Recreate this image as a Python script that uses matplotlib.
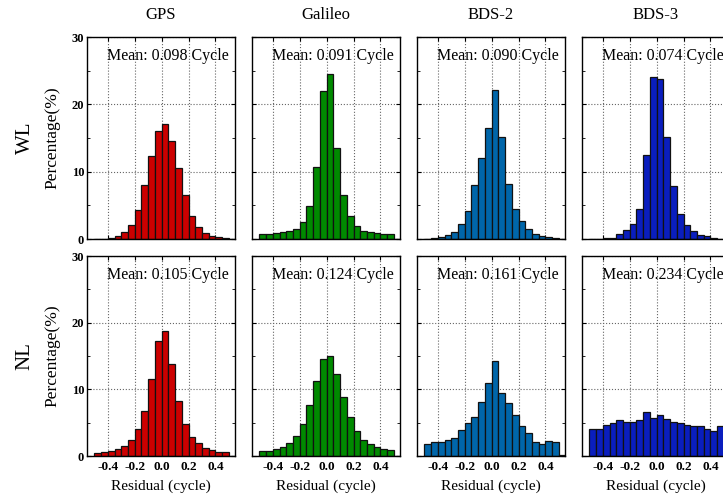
import matplotlib.pyplot as plt
from matplotlib.ticker import MultipleLocator

plt.rcParams['font.family'] = ['Liberation Serif', 'DejaVu Serif']

# bin centres of the residual histograms (cycle)
residual_bins = [-0.475, -0.425, -0.375, -0.325, -0.275, -0.225, -0.175,
                 -0.125, -0.075, -0.025, 0.025, 0.075, 0.125, 0.175, 0.225,
                 0.275, 0.325, 0.375, 0.425, 0.475, 0.525]

systems = ["GPS", "Galileo", "BDS-2", "BDS-3"]
colors = ["#cc0000", "#008a00", "#0066aa", "#0a1ebe"]

# wide-lane residual percentages (%)
gps_wl = [0.05, 0.05, 0.15, 0.45, 1.05, 2.15, 4.35, 8.0, 12.4, 16.05, 17.05,
          14.55, 10.55, 6.5, 3.45, 1.75, 0.9, 0.4, 0.25, 0.1, 0.0]
gal_wl = [0.7, 0.75, 0.9, 1.05, 1.15, 1.55, 2.5, 4.9, 10.7, 22.05, 24.55,
          13.45, 6.6, 3.45, 1.9, 1.25, 1.05, 0.9, 0.75, 0.7, 0.0]
bds2_wl = [0.0, 0.2, 0.35, 0.6, 1.05, 2.2, 4.1, 7.95, 12.05, 16.55, 22.15,
           15.2, 8.1, 4.5, 2.65, 1.45, 0.75, 0.4, 0.25, 0.1, 0.0]
bds3_wl = [0.0, 0.0, 0.15, 0.2, 0.7, 1.3, 2.2, 4.4, 12.5, 24.1, 23.8,
           15.1, 7.85, 3.65, 2.05, 1.2, 0.55, 0.4, 0.1, 0.05, 0.0]

# narrow-lane residual percentages (%)
gps_nl = [0.4, 0.55, 0.7, 1.0, 1.5, 2.4, 4.0, 6.75, 11.55, 17.3, 18.75,
          13.8, 8.3, 4.8, 2.9, 1.9, 1.25, 0.85, 0.65, 0.55, 0.0]
gal_nl = [0.7, 0.8, 1.0, 1.35, 1.95, 2.95, 4.8, 7.7, 11.25, 14.5, 14.95,
          12.25, 8.8, 5.8, 3.75, 2.45, 1.75, 1.3, 1.0, 0.85, 0.0]
bds2_nl = [1.8, 2.05, 2.15, 2.4, 2.7, 3.95, 4.95, 5.85, 8.1, 11.0, 14.2,
           9.4, 7.9, 6.15, 4.45, 3.4, 2.15, 1.75, 2.2, 2.1, 0.2]
bds3_nl = [4.1, 4.1, 4.7, 5.0, 5.4, 5.15, 5.15, 5.35, 6.6, 5.7, 6.2,
           5.5, 5.1, 5.0, 4.7, 4.45, 4.45, 4.05, 3.75, 4.55, 4.3]

wl_means = ["0.098", "0.091", "0.090", "0.074"]
nl_means = ["0.105", "0.124", "0.161", "0.234"]

rows = [("WL", [gps_wl, gal_wl, bds2_wl, bds3_wl], wl_means),
        ("NL", [gps_nl, gal_nl, bds2_nl, bds3_nl], nl_means)]

fig = plt.figure(figsize=(7.23, 4.94), dpi=100)
W, H = 723, 494
col_left = [87, 252, 417, 582]
row_box = [(37, 239), (256, 456)]   # top, bottom in pixels

for r, (sig, series, means) in enumerate(rows):
    top, bottom = row_box[r]
    for c in range(4):
        ax = fig.add_axes([col_left[c] / W, 1 - bottom / H, 148 / W, (bottom - top) / H])
        ax.bar(residual_bins, series[c], width=0.05, color=colors[c],
               edgecolor="#111111", linewidth=0.9, zorder=2)
        ax.set_xlim(-0.555, 0.545)
        ax.set_ylim(0, 30)
        ax.set_xticks([-0.4, -0.2, 0.0, 0.2, 0.4])
        ax.set_yticks([0, 10, 20, 30])
        ax.yaxis.set_minor_locator(MultipleLocator(5))
        ax.grid(True, linestyle=":", color="#666666", linewidth=0.8, zorder=0)
        ax.set_axisbelow(True)
        ax.tick_params(direction="in", top=True, right=True, length=3, width=0.8)
        ax.tick_params(which="minor", direction="in", right=True, length=2, width=0.6)
        for s in ax.spines.values():
            s.set_linewidth(1.0)
        ax.text(0.96, 0.905, "Mean: %s Cycle" % means[c], transform=ax.transAxes,
                ha="right", va="center", fontsize=11.5)
        if c == 0:
            ax.set_yticklabels(["0", "10", "20", "30"], fontweight="bold", fontsize=9)
            ax.tick_params(axis="y", pad=2)
        else:
            ax.set_yticklabels([])
        if r == 1:
            ax.set_xticklabels(["-0.4", "-0.2", "0.0", "0.2", "0.4"],
                               fontweight="bold", fontsize=9.5)
            ax.set_xlabel("Residual (cycle)", fontsize=11, labelpad=5)
        else:
            ax.set_xticklabels([])
            ax.set_title(systems[c], fontsize=12, pad=13)

    mid = 1 - (top + bottom) / 2 / H
    fig.text(25 / W, mid, sig, rotation=90, ha="center", va="center", fontsize=15)
    fig.text(52 / W, mid, "Percentage(%)", rotation=90, ha="center", va="center",
             fontsize=12.5)

fig.savefig("out.png", dpi=100)
